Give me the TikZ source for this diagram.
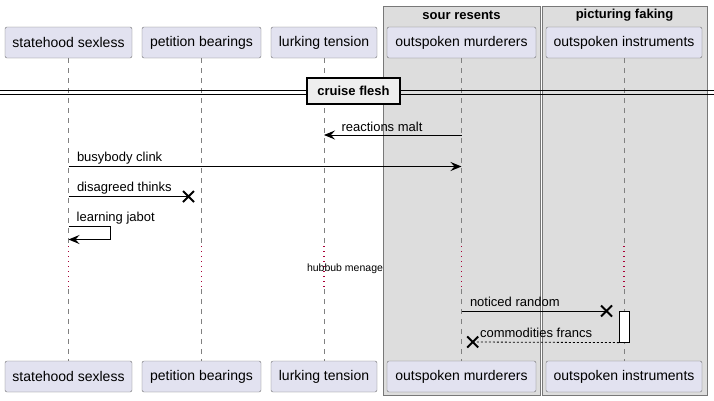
\documentclass[tikz,border=0pt]{standalone}
\usepackage{fontspec}
\setmainfont{Liberation Sans}
\usetikzlibrary{arrows.meta,positioning,calc}

\definecolor{partfill}{RGB}{226,226,240}
\definecolor{partline}{RGB}{110,110,110}
\definecolor{boxfill}{RGB}{221,221,221}
\definecolor{boxline}{RGB}{120,120,120}
\definecolor{delayred}{RGB}{168,0,54}
\definecolor{divfill}{RGB}{238,238,238}

\tikzset{
  part/.style={draw=partline, fill=partfill, rounded corners=2pt, minimum height=31pt,
    inner sep=3pt, font=\fontsize{14}{16}\selectfont},
  grpbox/.style={draw=boxline, fill=boxfill, line width=0.8pt},
  grptitle/.style={inner sep=0pt, font=\fontsize{13}{15}\selectfont\bfseries},
  life/.style={draw=gray, line width=0.8pt, dash pattern=on 5pt off 5pt},
  delayline/.style={draw=delayred, line width=1.3pt, dash pattern=on 1.3pt off 3.7pt},
  msg/.style={line width=1pt, -{Stealth[length=11pt,width=9pt,inset=4pt]}},
  lost/.style={line width=1pt},
  reply/.style={line width=0.8pt, dash pattern=on 2pt off 2pt},
  lbl/.style={inner sep=0pt, anchor=base west, font=\fontsize{13}{15}\selectfont},
  divbox/.style={draw, line width=1.6pt, fill=divfill, minimum width=93pt, minimum height=26pt,
    inner sep=0pt, font=\fontsize{13}{15}\selectfont\bfseries},
  actbox/.style={draw, line width=1pt, fill=white}
}

% cross at the end of a lost message
\newcommand{\crossend}[1]{%
  \draw[line width=2pt] ([shift={(-5.5,-5.5)}]#1) -- ([shift={(5.5,5.5)}]#1)
    ([shift={(-5.5,5.5)}]#1) -- ([shift={(5.5,-5.5)}]#1);}

\begin{document}
\begin{tikzpicture}[x=1pt,y=-1pt]
    \useasboundingbox (0,0) rectangle (714,400);

    % boxes
    \draw[grpbox] (383,6) rectangle (540,395);
    \draw[grpbox] (542,6) rectangle (707,395);
    \node[grptitle] (sourT) at (461.5,15) {sour resents};
    \node[grptitle] (pictT) at (624.5,15) {picturing faking};

    % participants
    \node[part, minimum width=127pt] (stateT) at (68.5,42.5) {statehood sexless};
    \node[part, minimum width=119pt] (petitT) at (201.5,42.5) {petition bearings};
    \node[part, minimum width=106pt] (lurkT) at (324,42.5) {lurking tension};
    \node[part, minimum width=149pt] (murdT) at (461.5,42.5) {outspoken murderers};
    \node[part, minimum width=156pt] (instrT) at (624,42.5) {outspoken instruments};

    \node[part, minimum width=127pt] (stateB) at (68.5,376.5) {statehood sexless};
    \node[part, minimum width=119pt] (petitB) at (201.5,376.5) {petition bearings};
    \node[part, minimum width=106pt] (lurkB) at (324,376.5) {lurking tension};
    \node[part, minimum width=149pt] (murdB) at (461.5,376.5) {outspoken murderers};
    \node[part, minimum width=156pt] (instrB) at (624,376.5) {outspoken instruments};

    % lifelines with the delay part
    \coordinate (dlyA) at (0,246);
    \coordinate (dlyB) at (0,289);
    \foreach \p in {state,petit,lurk,murd,instr} {
        \draw[life] (\p T.south) -- (\p T.south |- dlyA);
        \draw[delayline] (\p T.south |- dlyA) -- (\p T.south |- dlyB);
        \draw[life] (\p T.south |- dlyB) -- (\p B.north);
    }

    % divider
    \draw[line width=1pt] (0,90) -- (714,90) (0,94) -- (714,94);
    \node[divbox] (cruise) at (353.5,91) {cruise flesh};

    % message rows
    \coordinate (r1) at (0,135);
    \coordinate (r2) at (0,166.5);
    \coordinate (r3) at (0,196.5);
    \coordinate (r4) at (0,226.5);
    \coordinate (r4b) at (0,239.5);
    \coordinate (r5) at (0,311);
    \coordinate (r6) at (0,342);

    \draw[msg] (murdT |- r1) -- (lurkT |- r1)
        node[lbl, pos=1, xshift=17pt, yshift=4pt] {reactions malt};
    \draw[msg] (stateT |- r2) -- (murdT |- r2)
        node[lbl, pos=0, xshift=8pt, yshift=5pt] {busybody clink};

    \coordinate (lost1) at (188.5,196.5);
    \draw[lost] (stateT |- r3) -- (lost1)
        node[lbl, pos=0, xshift=8pt, yshift=5pt] {disagreed thinks};
    \crossend{lost1}

    \draw[msg] (stateT |- r4) -- ++(42,0) |- (stateT |- r4b);
    \node[lbl] (jabot) at ([xshift=8pt,yshift=5pt]stateT |- r4) {learning jabot};

    \node[inner sep=0pt, font=\fontsize{10.5}{12}\selectfont] (hubbub) at (345,269) {hubbub menage};

    \coordinate (lost2) at (606.5,311);
    \draw[lost] (murdT |- r5) -- (lost2)
        node[lbl, pos=0, xshift=8pt, yshift=4.5pt] {noticed random};
    \crossend{lost2}

    \node[actbox, minimum width=10pt, minimum height=31pt, inner sep=0pt] (act) at (624.3,326.6) {};

    \coordinate (lost3) at (472.7,342);
    \draw[reply] (act.south west) -- (lost3)
        node[lbl, pos=1, xshift=7pt, yshift=5pt] {commodities francs};
    \crossend{lost3}
\end{tikzpicture}
\end{document}
